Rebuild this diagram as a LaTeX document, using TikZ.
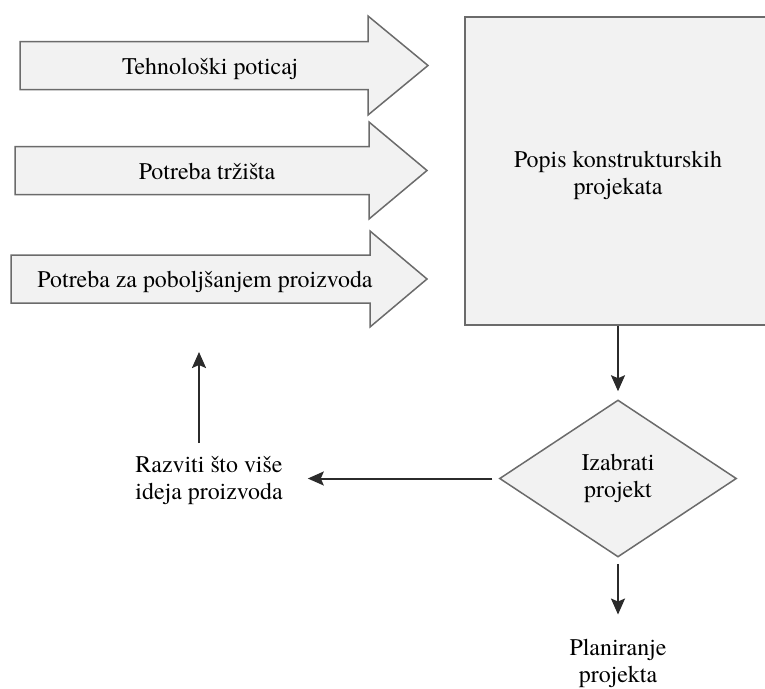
\documentclass[tikz,border=0pt]{standalone}
\usepackage{fontspec}
\setmainfont{texgyretermes}[Extension=.otf, UprightFont=*-regular, BoldFont=*-bold, ItalicFont=*-italic, BoldItalicFont=*-bolditalic]
\usetikzlibrary{shapes.geometric,arrows.meta}
\definecolor{boxfill}{HTML}{F2F2F2}
\definecolor{boxline}{HTML}{6B6B6B}
\definecolor{arrowc}{HTML}{2B2B2B}
\begin{document}
\begin{tikzpicture}[x=1pt,y=-1pt,
  blk/.style={fill=boxfill, draw=boxline, line width=1.5pt, line join=miter},
  lbl/.style={font=\fontsize{23.9}{27}\selectfont, align=center, inner sep=0pt, text=black},
  conn/.style={draw=arrowc, line width=2pt, -{Stealth[length=16pt,width=14pt,inset=3pt]}}]
\useasboundingbox (0,0) rectangle (765,688);
% block arrows
\draw[blk] (20,41.5) -- (368,41.5) -- (368,16) -- (428,65.5) -- (368,115) -- (368,89.5) -- (20,89.5) -- cycle;
\draw[blk] (15,146.5) -- (369,146.5) -- (369,122) -- (427,170.5) -- (369,219) -- (369,194.5) -- (15,194.5) -- cycle;
\draw[blk] (11,255) -- (370,255) -- (370,231) -- (427,279) -- (370,327) -- (370,303) -- (11,303) -- cycle;
\node[lbl, anchor=base] (t1) at (210,74) {Tehnološki poticaj};
\node[lbl, anchor=base] (t2) at (207,179) {Potreba tržišta};
\node[lbl, anchor=base] (t3) at (205,287) {Potreba za poboljšanjem proizvoda};
% big box
\node[blk, rectangle, minimum width=306pt, minimum height=308pt, inner sep=0pt] (box) at (618,171) {};
\node[lbl] (boxtxt) at (618,175) {Popis konstrukturskih\\projekata};
% diamond
\node[blk, diamond, aspect=1.51, minimum width=237pt, minimum height=157pt, inner sep=0pt, lbl, draw=boxline, fill=boxfill] (dia) at (618,478.5) {Izabrati\\projekt};
% free labels
\node[lbl] (raz) at (209,480.5) {Razviti što više\\ideja proizvoda};
\node[lbl] (plan) at (618,663) {Planiranje\\projekta};
% connectors
\draw[conn, shorten >=8pt] (box.south) -- (dia.north);
\draw[conn, shorten <=6pt, shorten >=24pt] (dia.south) -- (dia.south |- plan.north);
\draw[conn, shorten <=6.5pt, shorten >=25pt] (dia.west) -- (dia.west -| raz.east);
\coordinate (upstart) at (199,443);
\coordinate (upend) at (199,352);
\draw[conn] (upstart) -- (upend);
\end{tikzpicture}
\end{document}
